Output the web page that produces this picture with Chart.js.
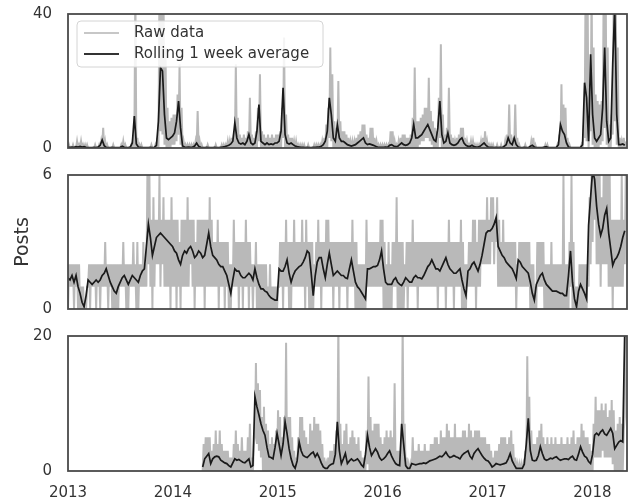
<!DOCTYPE html>
<html>
<head>
<meta charset="utf-8">
<script src="https://cdn.jsdelivr.net/npm/chart.js@4/dist/chart.umd.min.js"></script>
<style>
  html, body { margin: 0; padding: 0; background: #fff; }
  #wrap { position: relative; width: 628px; height: 499px; }
  #wrap canvas { position: absolute; left: 0; }
</style>
</head>
<body>
<div id="wrap">
  <canvas id="top" width="628" height="160" style="top:0"></canvas>
  <canvas id="mid" width="628" height="160" style="top:160px"></canvas>
  <canvas id="bot" width="628" height="179" style="top:320px"></canvas>
</div>
<script>
// weekly series, week 0 = first week of 2013
// avg = rolling 1 week average, hi/lo = weekly max/min of the daily raw counts
const YEARS = [2013, 2014, 2015, 2016, 2017, 2018];
const X_MIN = 2013, X_MAX = 2018.33;

const avg1 = [
  0.3,0.2,0.3,0.2,0.4,0.3,0.5,0.3,0.4,0.2,0.1,0.1,0.1,0.2,0.1,0.3,0.8,2.4,0.7,0.2,0.1,0.1,0.2,0.1,0.1,0.1,
  0.2,0.5,0.2,0.1,0.1,0.3,1.5,9.5,1.2,0.3,0.2,0.1,0.1,0.1,0.1,0.2,0.1,0.2,0.8,8,24,23,10,3,2.5,3,
  3.5,4.5,8,14,6,0.6,0.3,0.2,0.3,0.2,0.3,0.6,1.5,0.5,0.2,0.1,0.1,0.2,0.1,0.1,0.1,0.2,0.1,0.1,0.2,0.3,
  0.4,0.6,0.8,1.2,2,7.5,3,1.5,1.2,1.5,1,2,4,1.5,1,1.5,5,13,2,1.5,1,1.5,1,1.2,1,1.5,
  1.5,2,5,18,4,1.5,1.2,1.5,1,0.6,0.4,0.3,0.2,0.2,0.1,0.2,0.1,0.1,0.2,0.2,0.3,0.3,0.5,1,2,5,
  15,10,3,2,7,3,2,2,1.5,1,0.8,0.6,0.8,1,1.5,2,2.5,3,1.5,1,1.2,1,0.8,0.5,0.3,0.2,
  0.2,0.2,0.3,0.2,0.8,1,0.6,0.4,0.5,1,1.5,1,0.8,1,1.5,3,7,3,3,3.5,4,5,6,7,5.5,4,
  2.5,2,6,14,4,1.5,2,4.5,1.5,1,0.8,1,1.5,2.5,3,1.5,0.8,0.5,0.5,0.8,0.4,0.3,0.3,0.5,1,1.5,
  0.8,0.3,0.2,0.2,0.1,0.2,0.1,0.2,0.1,0.5,1,3,1.5,1,3,1,0.3,0.1,0.1,0.2,0.1,0.1,0.5,0.8,0.3,0.1,
  0.1,0.1,0.1,0.3,0.4,0.1,0.1,0.1,0.1,0.2,1,7,5,4,1.5,0.3,0.1,0.1,0.1,0.1,0.1,0.2,1,19.5,15,2,
  28,10,3,2,3,4,12,30,8,2,3,25,42,10,1,1,1.2,0.8
];
const hi1 = [
  1,0,1,0,2,1,2,1,1,1,0,0,0,1,0,1,2,6,2,1,0,0,1,0,0,0,
  1,2,1,0,0,1,4,48,3,1,1,0,0,0,0,1,0,1,3,48,48,48,30,12,8,9,
  10,10,16,25,12,2,1,1,1,1,1,2,11,2,1,0,0,1,0,0,0,1,0,0,1,1,
  1,2,2,3,4,25,9,4,3,4,3,5,15,4,3,5,12,22,5,4,3,4,3,4,3,4,
  4,5,12,33,10,4,3,3,2,2,1,1,1,1,0,1,0,0,1,1,1,1,2,3,7,12,
  30,22,8,6,20,8,5,5,4,3,2,2,2,3,4,5,7,7,4,3,6,6,3,2,1,1,
  1,1,1,1,5,5,2,1,2,3,4,4,3,3,4,9,24,8,8,9,10,12,12,21,11,8,
  6,5,15,31,10,4,6,18,4,3,2,3,4,6,6,3,2,1,2,2,1,1,1,2,3,5,
  2,1,1,1,0,1,0,1,0,2,4,13,4,3,13,3,1,0,0,1,0,0,2,3,1,0,
  0,0,0,1,1,0,0,0,0,1,4,19,13,12,3,1,0,0,0,0,0,1,5,48,48,8,
  48,30,16,14,13,14,48,48,30,7,10,48,48,30,3,2,3,2
];
const lo1 = [
  0,0,0,0,0,0,0,0,0,0,0,0,0,0,0,0,0,0,0,0,0,0,0,0,0,0,
  0,0,0,0,0,0,0,0,0,0,0,0,0,0,0,0,0,0,0,0,5,4,1,0,0,0,
  1,1,2,4,1,0,0,0,0,0,0,0,0,0,0,0,0,0,0,0,0,0,0,0,0,0,
  0,0,0,0,0,0,0,0,0,0,0,0,0,0,0,0,0,2,0,0,0,0,0,0,0,0,
  0,0,0,3,0,0,0,0,0,0,0,0,0,0,0,0,0,0,0,0,0,0,0,0,0,0,
  3,2,0,0,0,0,0,0,0,0,0,0,0,0,0,0,0,0,0,0,0,0,0,0,0,0,
  0,0,0,0,0,0,0,0,0,0,0,0,0,0,0,0,0,0,0,1,2,2,3,3,2,1,
  0,0,0,3,0,0,0,0,0,0,0,0,0,0,0,0,0,0,0,0,0,0,0,0,0,0,
  0,0,0,0,0,0,0,0,0,0,0,0,0,0,0,0,0,0,0,0,0,0,0,0,0,0,
  0,0,0,0,0,0,0,0,0,0,0,0,0,0,0,0,0,0,0,0,0,0,0,3,2,0,
  5,1,0,0,0,1,2,6,1,0,0,4,8,1,0,0,0,0
];

const avg2 = [
  1.4,1.3,1.5,1.2,1.5,1.0,0.7,0.3,0.1,0.6,1.3,1.2,1.1,1.2,1.3,1.2,1.3,1.5,1.6,1.8,1.5,1.2,1.0,0.8,0.7,1.0,
  1.2,1.4,1.5,1.3,1.1,1.3,1.5,1.4,1.3,1.2,1.5,1.7,1.8,2.8,3.8,3.2,2.4,2.8,3.2,3.3,3.4,3.3,3.2,3.1,3.0,2.9,
  2.8,2.6,2.5,2.2,2.0,2.4,2.6,2.5,2.7,2.8,2.6,2.3,2.4,2.6,2.5,2.3,2.4,2.9,3.4,2.8,2.4,2.3,2.2,2.0,1.9,1.9,
  1.7,1.5,1.1,0.7,1.3,1.8,1.7,1.7,1.5,1.4,1.4,1.5,1.6,1.5,1.3,1.8,1.4,1.1,0.9,0.9,0.8,0.75,0.6,0.5,0.45,0.4,
  0.4,1.8,1.7,1.7,1.9,2.2,1.6,1.2,1.5,1.7,1.8,1.9,1.95,2.1,2.3,2.6,2.5,1.6,0.6,1.5,2.1,2.3,2.3,1.8,1.4,2.0,
  2.5,2.0,1.5,1.6,1.7,1.6,1.5,1.5,1.4,1.36,1.8,2.2,1.7,1.2,1.0,0.9,0.75,0.6,0.45,1.8,1.8,1.85,1.9,1.9,1.95,2.2,
  2.6,1.8,1.2,1.1,1.1,1.1,1.3,1.4,1.2,1.1,1.05,1.2,1.4,1.3,1.2,1.2,1.4,1.5,1.4,1.4,1.35,1.5,1.7,1.9,2.0,2.2,
  2.0,1.8,1.8,1.7,1.9,2.1,2.3,2.0,1.8,1.7,1.6,1.6,1.7,1.8,1.3,0.9,0.6,1.7,1.8,2.0,2.1,1.9,1.7,2.0,2.4,2.9,
  3.4,3.5,3.5,3.6,3.8,4.1,2.8,2.6,2.4,2.3,2.1,2.0,1.9,1.8,1.6,1.36,2.2,2.1,1.9,1.8,1.7,1.6,1.2,0.7,0.4,1.1,
  1.3,1.5,1.6,1.3,1.1,1.0,0.9,0.8,0.8,0.8,0.75,0.7,0.7,0.6,0.6,1.5,2.6,1.2,0.45,0.1,0.8,1.1,0.9,0.7,0.45,3.75,
  5.0,6.2,5.8,4.6,3.8,3.3,3.6,4.2,4.5,3.4,2.7,1.95,2.2,2.3,2.5,2.8,3.2,3.5
];
const hi2 = [
  2,2,2,2,2,2,1,1,0,1,2,2,2,2,2,2,2,2,3,2,2,2,2,2,2,2,
  2,3,2,2,2,2,3,2,3,2,2,3,2,6,6,4,5,4,4,6,4,5,4,4,4,5,
  4,4,4,3,4,4,4,5,4,4,4,3,4,4,4,4,4,4,5,4,3,3,4,3,3,3,
  3,3,2,2,4,3,3,3,3,3,4,3,3,2,2,3,2,2,2,2,2,1,2,1,1,1,
  1,3,3,3,4,3,3,3,4,3,3,3,4,3,4,3,3,3,2,3,4,3,3,3,4,4,
  3,3,3,3,3,3,3,3,3,3,3,4,3,3,2,2,2,2,4,3,3,3,3,3,3,4,
  4,3,2,3,2,3,3,5,3,3,3,2,3,3,3,4,3,3,3,3,3,3,3,3,3,3,
  3,3,3,3,3,3,3,4,3,3,3,3,3,4,3,2,2,3,3,4,4,3,4,4,4,4,
  5,4,5,5,4,5,4,3,4,3,3,3,3,3,3,2,3,3,3,3,3,3,2,2,1,3,
  3,3,3,2,2,2,3,2,2,2,2,2,6,2,2,3,6,3,1,1,2,2,2,2,2,5,
  6,7,8,6,6,5,6,6,7,6,4,4,4,4,4,6,4,6
];
const lo2 = [
  0,1,1,0,1,0,0,0,0,0,1,0,1,1,0,1,0,1,1,1,0,1,0,0,0,0,
  1,1,1,0,0,1,1,1,0,0,1,1,1,1,2,1,0,1,2,2,1,2,1,1,1,0,
  1,1,0,1,0,1,1,1,1,2,1,0,1,1,1,1,0,1,1,1,1,1,1,0,1,1,
  0,1,0,0,1,1,1,0,1,0,1,1,0,1,0,1,0,0,0,0,0,0,0,0,0,0,
  0,1,1,0,1,1,0,0,1,1,1,1,1,1,0,1,0,0,0,1,1,1,0,1,1,1,
  1,1,0,1,1,0,1,1,1,0,1,1,1,0,0,0,0,0,0,1,1,1,1,1,1,1,
  1,0,0,0,0,0,1,1,0,0,0,0,1,0,1,1,1,1,0,1,1,1,1,1,1,1,
  1,1,0,1,1,1,0,1,1,1,0,1,1,1,0,0,0,1,1,1,1,0,1,1,2,2,
  2,2,2,3,2,3,1,1,1,1,1,1,1,1,1,0,1,1,1,1,1,1,0,0,0,0,
  1,1,1,0,0,0,0,0,0,0,0,0,0,0,0,0,1,0,0,0,0,0,0,0,0,1,
  2,3,4,2,2,1,2,2,2,1,1,0,1,1,1,1,1,2
];

// third series only starts in spring 2014
const START3 = 67;
const avg3 = [
  0.6,1.8,2.2,2.6,1.1,1.8,2.1,2.2,2.1,1.6,1.4,
  1.2,1.1,0.8,0.6,1.2,1.8,1.6,1.7,1.5,1.3,1.2,1.5,1.8,0.6,0.8,11,9.5,8.3,7,6,5.3,3.5,2.1,2.0,1.8,3.5,
  5.6,4,2.3,4,7.3,5.5,3.3,1.8,0.85,0.4,1.5,4.3,3,2.3,2.1,2,2.3,2.6,2.8,2.1,2.6,2,1.2,0.6,0.4,0.4,
  0.8,1.0,1.1,2.5,7.3,3,1.1,1.8,2.6,1.1,1.5,1.8,1.5,1.6,1.8,1.4,0.9,0.6,2.5,5.3,3.5,2.3,2.8,3.3,2.8,2.0,
  1.6,1.8,2.1,2.6,3.0,2.2,1.6,1.1,0.9,0.8,7,4,0.8,0.4,0.4,1.1,1.0,0.9,1.0,1.1,1.1,1.2,1.1,1.3,1.5,1.6,
  1.7,1.8,2.0,2.2,2.1,2.4,2.8,2.3,2.0,2.1,2.3,2.1,2.0,1.8,2.3,2.6,2.8,3.0,2.2,1.8,2.6,3.0,3.3,2.8,2.3,1.9,
  1.6,1.5,1.1,0.6,0.8,1.1,1.0,0.9,1.0,1.1,1.2,1.8,2.6,1.5,0.9,0.4,0.4,0.4,0.4,1.0,4,7.8,3,1.6,1.5,1.6,
  2.3,3.6,2.6,1.8,1.6,1.7,1.9,1.8,2.0,2.1,1.8,1.6,1.7,1.8,1.8,1.7,2.0,2.2,1.7,1.6,2.5,3.6,2.8,2.2,2.0,1.4,
  1.1,2.5,5.3,5.6,5.3,5.8,6.1,5.5,5.3,5.8,6.3,5.6,3.3,3.8,4.3,4.5,4.3,21
];
const hi3 = [
  4,5,5,5,3,4,6,4,6,4,3,
  3,3,2,2,4,6,4,3,5,3,3,5,7,2,4,16,13,12,8,9.5,7,6,4,5,4,6,
  9,8,5,8,19,8,8,5,3,2,5,8,8,6,5,4,7,6,8,7,7,6,4,2,1,2,
  3,3,4,6,22,7,4,6,7,4,5,6,5,4,5,3,2,2,6,14,8,6,7,7,7,5,
  4,5,6,5,6,5,13,3,3,3,22,7,2,1,1,5,3,3,4,3,3,4,3,3,4,4,
  5,5,4,6,5,5,7,6,5,5,7,5,5,5,6,6,5,7,6,5,6,6,6,5,5,5,
  4,4,3,2,3,3,4,5,5,5,4,5,6,4,2,1,1,1,1,3,17,11,6,4,4,5,
  6,7,5,4,5,4,5,4,5,4,4,5,4,4,5,4,5,6,4,5,5,7,6,5,5,4,
  3,7,11,9,9,10,9,10,8,9,10.5,9,6,7,8,7,6,22
];
const lo3 = [
  0,0,0,0,0,0,0,0,0,0,0,
  0,0,0,0,0,0,0,0,0,0,0,0,0,0,0,5,4,3,2,0,0,0,0,0,0,0,
  0,0,0,0,0,0,0,0,0,0,0,0,0,0,0,0,0,0,0,0,0,0,0,0,0,0,
  0,0,0,0,0,0,0,0,0,0,0,0,0,0,0,0,0,0,0,1,0,0,0,0,0,0,
  0,0,0,0,0,0,0,0,0,0,0,0,0,0,0,0,0,0,0,0,0,0,0,0,0,0,
  0,0,0,0,0,0,0,0,0,0,0,0,0,0,0,0,0,0,0,0,0,0,0,0,0,0,
  0,0,0,0,0,0,0,0,0,0,0,0,0,0,0,0,0,0,0,0,0,0,0,0,0,0,
  0,0,0,0,0,0,0,0,0,0,0,0,0,0,0,0,0,0,0,0,0,0,0,0,0,0,
  0,0,2,2,2,2,3,2,2,2,2,1,0,0,0,0,0,8
];

const TEXT = '#333';
const FONT = 'DejaVu Sans';
Chart.defaults.font.family = FONT;
Chart.defaults.font.size = 15;
Chart.defaults.color = TEXT;

const weekX = w => X_MIN + w * 7 / 365.25;

// raw daily counts as a zigzag between the weekly min and max
function rawPoints(lo, hi, start) {
  const pts = [];
  hi.forEach((h, i) => {
    pts.push({ x: weekX(start + i), y: lo[i] });
    pts.push({ x: weekX(start + i + 0.5), y: h });
  });
  return pts;
}
function avgPoints(avg, start) {
  return avg.map((v, i) => ({ x: weekX(start + i), y: v }));
}

// box round the plot area
const frame = {
  id: 'frame',
  afterDraw(chart) {
    const { ctx, chartArea: a } = chart;
    ctx.save();
    ctx.strokeStyle = '#4a4a4a';
    ctx.lineWidth = 1.8;
    ctx.strokeRect(a.left, a.top, a.right - a.left, a.bottom - a.top);
    ctx.restore();
  }
};

// legend box drawn inside the top panel
const insideLegend = {
  id: 'insideLegend',
  afterDraw(chart) {
    const { ctx, chartArea: a } = chart;
    const x = a.left + 9, y = a.top + 7, w = 246, h = 46;
    ctx.save();
    ctx.beginPath();
    ctx.roundRect(x, y, w, h, 4);
    ctx.fillStyle = 'rgba(255,255,255,0.85)';
    ctx.fill();
    ctx.strokeStyle = '#d4d4d4';
    ctx.lineWidth = 1;
    ctx.stroke();
    const rows = [
      { text: 'Raw data', color: 'rgba(150,150,150,0.7)', width: 1.5 },
      { text: 'Rolling 1 week average', color: '#333', width: 1.8 }
    ];
    rows.forEach((r, k) => {
      const ly = y + 12 + k * 21;
      ctx.beginPath();
      ctx.moveTo(x + 7, ly);
      ctx.lineTo(x + 42, ly);
      ctx.strokeStyle = r.color;
      ctx.lineWidth = r.width;
      ctx.stroke();
      ctx.fillStyle = TEXT;
      ctx.font = '15px "' + FONT + '"';
      ctx.textBaseline = 'middle';
      ctx.fillText(r.text, x + 57, ly);
    });
    ctx.restore();
  }
};

function panel(id, avg, lo, hi, start, yMax, cfg) {
  return new Chart(document.getElementById(id), {
    type: 'line',
    data: {
      datasets: [
        {
          label: 'Rolling 1 week average',
          data: avgPoints(avg, start),
          borderColor: '#1a1a1a',
          borderWidth: 1.7,
          pointRadius: 0,
          order: 0
        },
        {
          label: 'Raw data',
          data: rawPoints(lo, hi, start),
          borderColor: 'rgba(115,115,115,0.5)',
          borderWidth: 2,
          pointRadius: 0,
          order: 1
        }
      ]
    },
    options: {
      responsive: false,
      animation: false,
      devicePixelRatio: 1,
      layout: { padding: { top: cfg.top, bottom: cfg.bottom, left: 0, right: 1 } },
      plugins: { legend: { display: false }, tooltip: { enabled: false } },
      scales: {
        x: {
          type: 'linear',
          min: X_MIN,
          max: X_MAX,
          display: cfg.showX,
          grid: { display: false },
          border: { display: false },
          afterBuildTicks: s => { s.ticks = YEARS.map(v => ({ value: v })); },
          afterFit: s => { if (cfg.showX) s.height = 28; },
          ticks: { padding: 5, maxRotation: 0, autoSkip: false, callback: v => String(v) }
        },
        y: {
          min: 0,
          max: yMax,
          // invisible tick marks keep the labels clear of the frame
          grid: { display: true, drawOnChartArea: false, drawTicks: true, tickLength: 16, tickColor: 'rgba(0,0,0,0)' },
          border: { display: false },
          afterBuildTicks: s => { s.ticks = [{ value: 0 }, { value: yMax }]; },
          afterFit: s => { s.width = 68; },
          ticks: { padding: 0 },
          title: {
            display: !!cfg.title,
            text: cfg.title || '',
            font: { size: 19 },
            padding: { top: 12, bottom: 0 }
          }
        }
      }
    },
    plugins: cfg.legend ? [frame, insideLegend] : [frame]
  });
}

panel('top', avg1, lo1, hi1, 0, 40, { top: 14, bottom: 12, showX: false, legend: true });
panel('mid', avg2, lo2, hi2, 0, 6, { top: 15, bottom: 11, showX: false, title: 'Posts' });
panel('bot', avg3, lo3, hi3, START3, 20, { top: 16, bottom: 0, showX: true });
</script>
</body>
</html>
